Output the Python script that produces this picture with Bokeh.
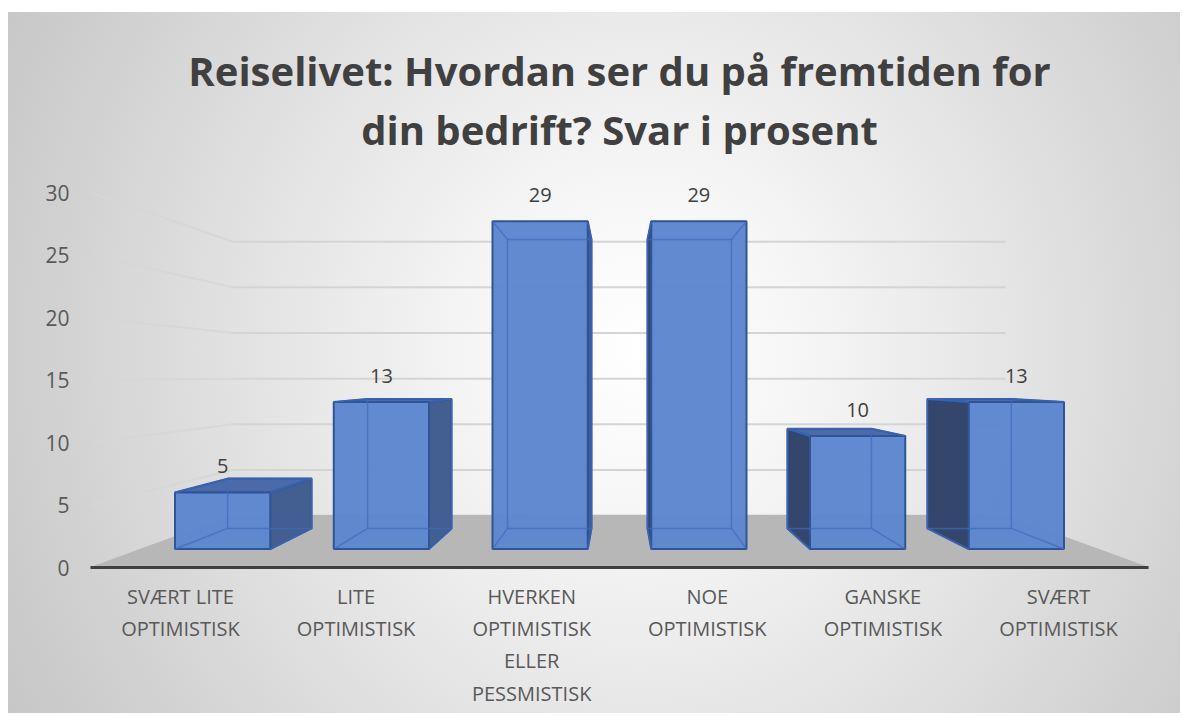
import numpy as np
from bokeh.plotting import figure
from bokeh.models import Range1d, FixedTicker, Title
from bokeh.embed import file_html
from bokeh.resources import INLINE
from bokeh.core.properties import value

# ---------------- data ----------------
categories = [
    "SVÆRT LITE\nOPTIMISTISK",
    "LITE\nOPTIMISTISK",
    "HVERKEN\nOPTIMISTISK\nELLER\nPESSMISTISK",
    "NOE\nOPTIMISTISK",
    "GANSKE\nOPTIMISTISK",
    "SVÆRT\nOPTIMISTISK",
]
values = [5, 13, 29, 29, 10, 13]
y_ticks = [0, 5, 10, 15, 20, 25, 30]
title_lines = ["Reiselivet: Hvordan ser du på fremtiden for", "din bedrift? Svar i prosent"]

# ---------------- perspective (style) ----------------
n = len(categories)
VX = (n - 1) / 2.0          # vanishing point x (data units)
VY = 15.4                   # vanishing point y (data units)
S_FLOOR_BACK = 0.7304       # depth scale of back wall
S_BAR_FRONT = 0.904         # depth scale of bar front faces
S_BAR_BACK = 0.797          # depth scale of bar back faces
BAR_W = 0.6
X_LO, X_HI = -0.5125, (n - 1) + 0.5125
Y_TOP = 32.56


def proj(x, y, s):
    return VX + s * (x - VX), VY + s * (y - VY)


p = figure(width=1172, height=701,
           x_range=Range1d(X_LO, X_HI), y_range=Range1d(0, Y_TOP),
           output_backend="svg", toolbar_location=None, title=None,
           min_border_left=82, min_border_right=32,
           min_border_top=148, min_border_bottom=146)
p.background_fill_color = None
p.border_fill_color = None
p.outline_line_color = None
p.xgrid.visible = False
p.ygrid.visible = False
p.styles = {
    "margin-left": "8px",
    "margin-top": "12px",
    "background": "radial-gradient(ellipse 62% 110% at 54% 48%, #ffffff 0%, #f6f6f6 22%, "
                  "#e4e4e4 52%, #d2d2d2 80%, #c6c6c6 100%)",
}

# second line first: it sits closest to the frame
title_standoffs = [-5, 8]
for txt, so in reversed(list(zip(title_lines, title_standoffs))):
    p.add_layout(Title(text=txt, align="center", text_font_size="40px",
                       text_font_style="bold", text_color="#404040", standoff=so,
                       text_font="Open Sans"), "above")

# ---------------- axes ----------------
yax = p.yaxis[0]
yax.ticker = FixedTicker(ticks=y_ticks)
yax.axis_line_color = None
yax.major_tick_line_color = None
yax.minor_tick_line_color = None
yax.major_tick_out = 0
yax.major_tick_in = 0
yax.major_label_standoff = 21
yax.major_label_text_font = "Open Sans"
yax.major_label_text_font_size = "21px"
yax.major_label_text_color = "#595959"

xax = p.xaxis[0]
xax.ticker = FixedTicker(ticks=list(range(n)))
xax.major_label_overrides = {i: c for i, c in enumerate(categories)}
xax.axis_line_color = "#404040"
xax.axis_line_width = 3
xax.major_tick_line_color = None
xax.minor_tick_line_color = None
xax.major_tick_out = 0
xax.major_tick_in = 0
xax.major_label_standoff = 15
xax.major_label_text_font = "Open Sans"
xax.major_label_text_font_size = "20px"
xax.major_label_text_color = "#595959"

# ---------------- walls / gridlines ----------------
back_xs, back_ys, side_xs, side_ys = [], [], [], []
for t in y_ticks:
    bx0, by = proj(X_LO, t, S_FLOOR_BACK)
    bx1, _ = proj(X_HI, t, S_FLOOR_BACK)
    back_xs.append([bx0, bx1]); back_ys.append([by, by])
    side_xs.append([X_LO, bx0]); side_ys.append([t, by])
p.multi_line(back_xs, back_ys, line_color="#d4d4d4", line_width=2)
p.multi_line(side_xs, side_ys, line_color="#d6d6d6", line_width=2, line_alpha=0.85)

# floor
fbx0, fby = proj(X_LO, 0, S_FLOOR_BACK)
fbx1, _ = proj(X_HI, 0, S_FLOOR_BACK)
p.patch([X_LO, X_HI, fbx1, fbx0], [0, 0, fby, fby],
        fill_color="#b7b7b7", line_color="#b7b7b7", line_width=1)

# ---------------- bars (projected boxes) ----------------
back_f = {"xs": [], "ys": []}
conn_xs, conn_ys = [], []
rside = {"xs": [], "ys": []}
lside = {"xs": [], "ys": []}
tops = {"xs": [], "ys": []}
fronts = {"xs": [], "ys": []}
lab_x, lab_y = [], []

for i, v in enumerate(values):
    x0, x1 = i - BAR_W / 2, i + BAR_W / 2
    corners = [(x0, 0), (x1, 0), (x1, v), (x0, v)]
    F = [proj(cx, cy, S_BAR_FRONT) for cx, cy in corners]
    B = [proj(cx, cy, S_BAR_BACK) for cx, cy in corners]
    back_f["xs"].append([q[0] for q in B] + [B[0][0]])
    back_f["ys"].append([q[1] for q in B] + [B[0][1]])
    for k in range(4):
        conn_xs.append([B[k][0], F[k][0]]); conn_ys.append([B[k][1], F[k][1]])
    if x1 < VX:   # right side visible
        face = [F[1], B[1], B[2], F[2]]
        rside["xs"].append([q[0] for q in face]); rside["ys"].append([q[1] for q in face])
    if x0 > VX:   # left side visible
        face = [F[0], B[0], B[3], F[3]]
        lside["xs"].append([q[0] for q in face]); lside["ys"].append([q[1] for q in face])
    if v < VY:    # top visible
        face = [F[3], F[2], B[2], B[3]]
        tops["xs"].append([q[0] for q in face]); tops["ys"].append([q[1] for q in face])
    fronts["xs"].append([q[0] for q in F]); fronts["ys"].append([q[1] for q in F])
    tx, ty = proj(i, v, S_BAR_FRONT)
    lab_x.append(tx); lab_y.append(ty + 2.1)

EDGE = "#2f5597"
p.patches(rside["xs"], rside["ys"], fill_color="#435e90", line_color=EDGE, line_width=2)
p.patches(lside["xs"], lside["ys"], fill_color="#34466b", line_color=EDGE, line_width=2)
p.patches(tops["xs"], tops["ys"], fill_color="#4a6aaa", line_color=EDGE, line_width=2)
p.patches(fronts["xs"], fronts["ys"], fill_color="#5c86ce", fill_alpha=0.97,
          line_color=EDGE, line_width=2)
# hidden edges seen through the translucent front face
p.multi_line(back_f["xs"], back_f["ys"], line_color="#3d6bbf", line_width=1.5, line_alpha=0.7)
p.multi_line(conn_xs, conn_ys, line_color="#3d6bbf", line_width=1.5, line_alpha=0.7)

p.text(lab_x, lab_y, text=[str(v) for v in values], text_align="center",
       text_baseline="middle", text_font=value("Open Sans"), text_font_size="20px",
       text_color="#404040")

open("out.html", "w").write(file_html(p, INLINE))
